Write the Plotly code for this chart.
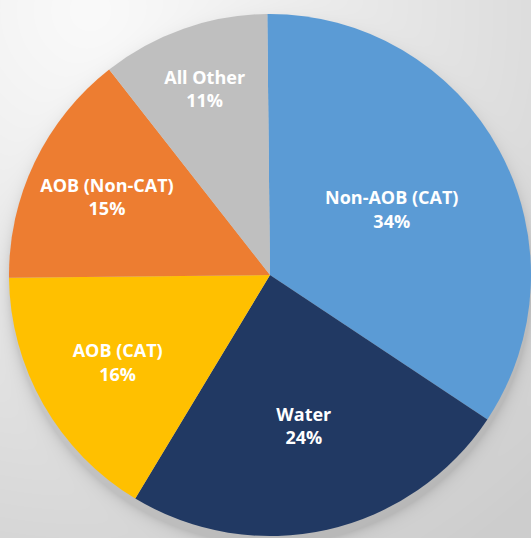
import base64
import struct
import zlib

import numpy as np
import plotly.graph_objects as go

# ---- data ----
categories = ["Non-AOB (CAT)", "Water", "AOB (CAT)", "AOB (Non-CAT)", "All Other"]
shares = [34.5, 24.3, 16.2, 14.6, 10.4]
pct_labels = ["34%", "24%", "16%", "15%", "11%"]
colors = ["#5B9BD5", "#213963", "#FFC000", "#ED7D31", "#BFBFBF"]

W, H = 531, 538
CX, CY, R = 270, 275, 261  # pie geometry in pixels


def png_gray(arr):
    h, w = arr.shape
    raw = b"".join(b"\x00" + arr[i].tobytes() for i in range(h))

    def chunk(t, d):
        c = struct.pack(">I", len(d)) + t + d
        return c + struct.pack(">I", zlib.crc32(t + d) & 0xFFFFFFFF)

    return (b"\x89PNG\r\n\x1a\n"
            + chunk(b"IHDR", struct.pack(">IIBBBBB", w, h, 8, 0, 0, 0, 0))
            + chunk(b"IDAT", zlib.compress(raw, 9))
            + chunk(b"IEND", b""))


# background: soft light gradient plus a drop shadow under the pie
yy, xx = np.mgrid[0:H, 0:W].astype(float)
d = np.hypot(xx - 90, yy - 10)
base = 250 - 44 * np.clip(d / 650, 0, 1) ** 1.1
ds = np.hypot(xx - CX, yy - (CY + 8)) - R
shadow = 26 * np.exp(-np.clip(ds, 0, None) / 6)
bg = np.clip(base - shadow, 0, 255).astype(np.uint8)
bg_src = "data:image/png;base64," + base64.b64encode(png_gray(bg)).decode()

fig = go.Figure(
    go.Pie(
        labels=categories,
        values=shares,
        text=pct_labels,
        texttemplate="%{label}<br>%{text}",
        textposition="inside",
        insidetextorientation="horizontal",
        textfont=dict(family="Open Sans", size=18, color="white", weight="bold"),
        marker=dict(colors=colors, line=dict(width=0)),
        sort=False,
        direction="clockwise",
        rotation=-0.6,
        showlegend=False,
        hoverinfo="label+percent",
        domain=dict(x=[(CX - R) / W, (CX + R) / W],
                    y=[1 - (CY + R) / H, 1 - (CY - R) / H]),
    )
)

fig.update_layout(
    width=W,
    height=H,
    margin=dict(l=0, r=0, t=0, b=0),
    paper_bgcolor="#e4e4e4",
    plot_bgcolor="rgba(0,0,0,0)",
    images=[dict(source=bg_src, xref="paper", yref="paper", x=0, y=1,
                 sizex=1, sizey=1, sizing="stretch", xanchor="left",
                 yanchor="top", layer="below")],
    uniformtext=dict(mode=False),
)

fig.write_html(
    "out.html",
    config={"displayModeBar": False},
    post_script="document.body.style.margin='0';"
                "document.documentElement.style.overflow='hidden';",
)
